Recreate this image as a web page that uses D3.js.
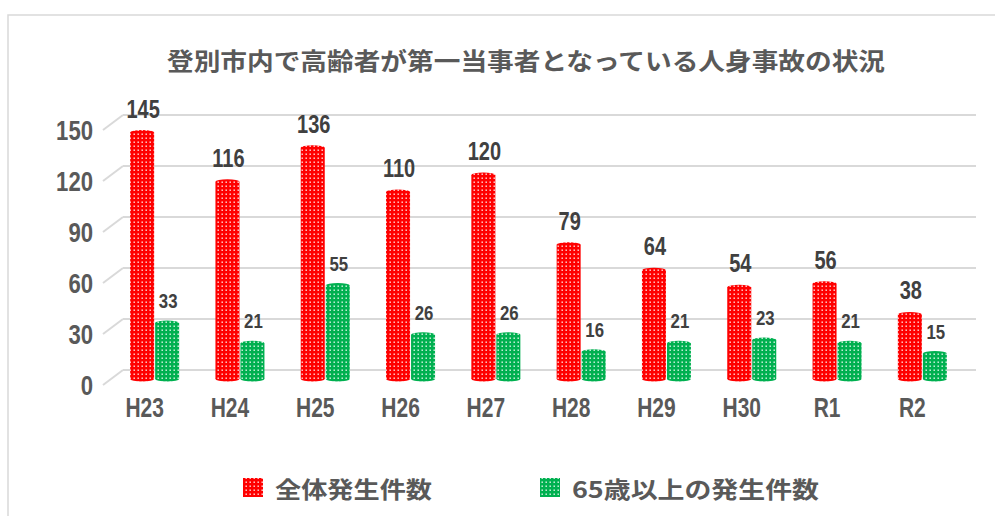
<!DOCTYPE html>
<html>
<head>
<meta charset="utf-8">
<script src="https://cdn.jsdelivr.net/npm/d3@7"></script>
<style>
  body { margin: 0; background: #fff; }
  .num { font-family: "Liberation Sans", sans-serif; font-weight: bold; fill: #404040; }
  .tick { font-family: "Liberation Sans", sans-serif; font-weight: bold; fill: #595959; }
  .jp { font-family: "Noto Sans CJK JP", sans-serif; font-weight: bold; fill: #595959; }
</style>
</head>
<body>
<script>
var years = ["H23", "H24", "H25", "H26", "H27", "H28", "H29", "H30", "R1", "R2"];
var total = [145, 116, 136, 110, 120, 79, 64, 54, 56, 38];
var elderly = [33, 21, 55, 26, 26, 16, 21, 23, 21, 15];
var yTicks = [0, 30, 60, 90, 120, 150];
var seriesNames = ["全体発生件数", "65歳以上の発生件数"];
var seriesColors = ["#ff0000", "#00b050"];

var width = 995, height = 516;

var svg = d3.select("body").append("svg")
	.attr("width", width)
	.attr("height", height);

// narrow text: the font is squeezed horizontally
function narrow(sel, px, py, sx) {
	return sel.attr("transform", "translate(" + px + "," + py + ") scale(" + sx + ",1)");
}

// dotted fills for the bars
var defs = svg.append("defs");
seriesColors.forEach(function(c, i) {
	var p = defs.append("pattern")
		.attr("id", "dots" + i)
		.attr("patternUnits", "userSpaceOnUse")
		.attr("width", 4)
		.attr("height", 4);
	p.append("rect").attr("width", 4).attr("height", 4).attr("fill", c);
	p.append("rect").attr("x", 1.5).attr("y", 1.5).attr("width", 1.4).attr("height", 1.4).attr("fill", "#fff").attr("opacity", 0.9);
});

// chart area border
svg.append("path")
	.attr("d", "M8,516 L8,15 L995,15")
	.attr("fill", "none")
	.attr("stroke", "#d9d9d9")
	.attr("stroke-width", 1.5);

// title
svg.append("text")
	.attr("class", "jp")
	.attr("x", 167)
	.attr("y", 70)
	.attr("font-size", 24)
	.attr("textLength", 718)
	.attr("lengthAdjust", "spacingAndGlyphs")
	.text("登別市内で高齢者が第一当事者となっている人身事故の状況");

// back wall scale and bar scale (bars sit a little in front)
var yBack = d3.scaleLinear().domain([0, 150]).range([370, 115]);
var yBar = d3.scaleLinear().domain([0, 150]).range([379, 124]);
var depthX = 20, depthY = 15;

var x = d3.scaleBand()
	.domain(years)
	.range([112, 965]);

// gridlines: back wall + floor diagonal
var grid = svg.append("g");
yTicks.forEach(function(t) {
	var yy = yBack(t);
	grid.append("line")
		.attr("x1", 123).attr("x2", 976)
		.attr("y1", yy).attr("y2", yy)
		.attr("stroke", "#d9d9d9").attr("stroke-width", 2);
	grid.append("line")
		.attr("x1", 123 - depthX).attr("x2", 123)
		.attr("y1", yy + depthY).attr("y2", yy)
		.attr("stroke", "#d9d9d9").attr("stroke-width", 2);
	narrow(svg.append("text"), 93, yy + depthY + 10, 0.79)
		.attr("class", "tick")
		.attr("text-anchor", "end")
		.attr("font-size", 28)
		.text(t);
});

// category labels
years.forEach(function(d) {
	narrow(svg.append("text"), x(d) + x.bandwidth() / 2 - 10, 417, 0.75)
		.attr("class", "tick")
		.attr("text-anchor", "middle")
		.attr("font-size", 28)
		.text(d);
});

// cylinders
var barW = 24;
function drawBars(vals, k) {
	var g = svg.append("g").attr("fill", "url(#dots" + k + ")");
	vals.forEach(function(v, i) {
		var cx = x(years[i]) + x.bandwidth() / 2 + (k === 0 ? -barW / 2 - 0.5 : barW / 2 + 0.5);
		var top = yBar(v), bottom = yBar(0);
		g.append("rect")
			.attr("x", cx - barW / 2)
			.attr("y", top)
			.attr("width", barW)
			.attr("height", bottom - top);
		g.append("ellipse")
			.attr("cx", cx).attr("cy", bottom)
			.attr("rx", barW / 2).attr("ry", 2.5);
		g.append("ellipse")
			.attr("cx", cx).attr("cy", top)
			.attr("rx", barW / 2).attr("ry", 2.5);
		narrow(svg.append("text"), cx + 1, top - 15, 0.8)
			.attr("class", "num")
			.attr("text-anchor", "middle")
			.attr("font-size", k === 0 ? 25 : 21)
			.text(v);
	});
}
drawBars(total, 0);
drawBars(elderly, 1);

// legend
var legendX = [243, 540];
var legendLen = [157, 247];
seriesNames.forEach(function(n, i) {
	svg.append("rect")
		.attr("x", legendX[i])
		.attr("y", 478)
		.attr("width", 20)
		.attr("height", 19)
		.attr("fill", "url(#dots" + i + ")");
	svg.append("text")
		.attr("class", "jp")
		.attr("x", legendX[i] + 32)
		.attr("y", 498)
		.attr("font-size", 23)
		.attr("textLength", legendLen[i])
		.attr("lengthAdjust", "spacingAndGlyphs")
		.text(n);
});
</script>
</body>
</html>
